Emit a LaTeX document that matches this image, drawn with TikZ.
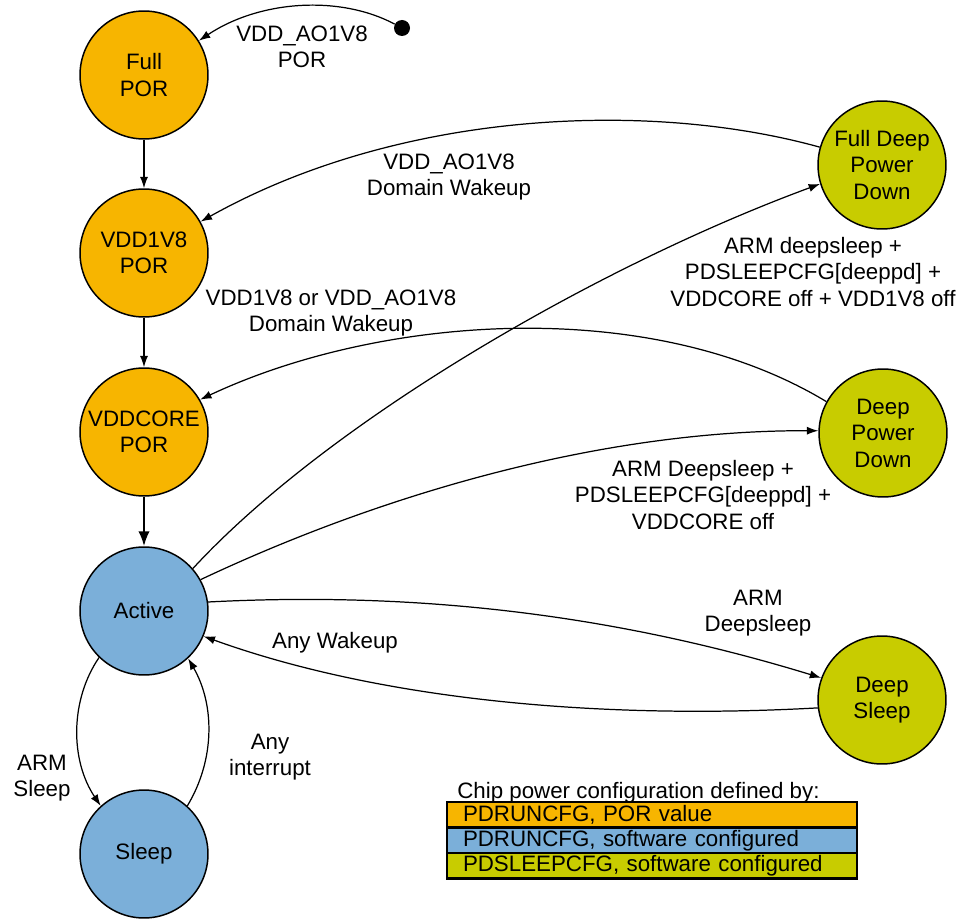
\documentclass[tikz,border=0pt]{standalone}
\usepackage{fontspec}
\setmainfont{Liberation Sans}
\usetikzlibrary{arrows.meta}
\definecolor{porO}{HTML}{F7B500}
\definecolor{swB}{HTML}{7BAFD9}
\definecolor{slpG}{HTML}{C8CC00}
\begin{document}
\begin{tikzpicture}[x=0.02cm,y=-0.02cm,
  font=\fontsize{12.7}{15.1}\selectfont,
  state/.style={circle, draw, line width=0.85pt, minimum size=2.56cm, inner sep=0pt, align=center},
  edge/.style={line width=0.7pt, -{Latex[length=6.5pt,width=4.6pt]}},
  bigedge/.style={line width=1.3pt, -{Latex[length=8.5pt,width=6.5pt]}},
  lbl/.style={align=center, inner sep=0pt},
  legrow/.style={draw, line width=1.4pt, outer sep=0pt, minimum height=0.51cm, inner xsep=0.32cm, inner ysep=0pt, text width=7.56cm, align=left, anchor=north west}]
\useasboundingbox (0,0) rectangle (960,922);

% states
\node[state, fill=porO] (fpor) at (144,75) {Full\\POR};
\node[state, fill=porO] (v18) at (144,253) {VDD1V8\\POR};
\node[state, fill=porO] (vcore) at (144,432) {VDDCORE\\POR};
\node[state, fill=swB] (act) at (144,611) {Active};
\node[state, fill=swB] (slp) at (144,854) {Sleep};
\node[state, fill=slpG] (fdpd) at (882,165) {Full Deep\\Power\\Down};
\node[state, fill=slpG] (dpd) at (883,433) {Deep\\Power\\Down};
\node[state, fill=slpG] (ds) at (882,700) {Deep\\Sleep};
\node[circle, fill=black, minimum size=0.32cm, inner sep=0pt] (dot) at (402,28) {};

% connectors
\draw[edge] (dot) .. controls (340,-5) and (260,0) .. (fpor.32);
\draw[edge] (fpor) -- (v18);
\draw[edge] (v18) -- (vcore);
\draw[bigedge] (vcore) -- (act);
\draw[edge] (fdpd.164) .. controls (650,100) and (400,110) .. (v18.29);
\draw[edge] (dpd.151) .. controls (650,295) and (380,315) .. (vcore.30);
\draw[edge] (act.41) .. controls (330,420) and (600,265) .. (fdpd.197);
\draw[edge] (act.29) .. controls (380,495) and (600,430) .. (dpd.178);
\draw[edge] (act.8) .. controls (400,592) and (600,610) .. (ds.160);
\draw[edge] (ds.187) .. controls (600,720) and (380,700) .. (act.-23);
\draw[edge] (act.-134) .. controls (70,700) and (70,760) .. (slp.132);
\draw[edge] (slp.48) .. controls (215,760) and (215,705) .. (act.-47);

% labels
\node[lbl] (l1) at (302,47) {VDD\_AO1V8\\POR};
\node[lbl] (l2) at (449,177) {VDD\_AO1V8\\Domain Wakeup};
\node[lbl] (l3) at (331,313) {VDD1V8 or VDD\_AO1V8\\Domain Wakeup};
\node[lbl] (l4) at (813,272) {ARM deepsleep +\\PDSLEEPCFG[deeppd] +\\VDDCORE off + VDD1V8 off};
\node[lbl] (l5) at (703,495) {ARM Deepsleep +\\PDSLEEPCFG[deeppd] +\\VDDCORE off};
\node[lbl] (l6) at (758,613) {ARM\\Deepsleep};
\node[lbl] (l7) at (335,643) {Any Wakeup};
\node[lbl] (l8) at (42,778) {ARM\\Sleep};
\node[lbl] (l9) at (270,757) {Any\\interrupt};

% legend
\node[anchor=base west, inner sep=0pt] (legt) at (457,798) {Chip power configuration defined by:};
\node[legrow, fill=porO] (leg1) at (447,802) {PDRUNCFG, POR value};
\node[legrow, fill=swB] (leg2) at (leg1.south west) {PDRUNCFG, software configured};
\node[legrow, fill=slpG] (leg3) at (leg2.south west) {PDSLEEPCFG, software configured};
\end{tikzpicture}
\end{document}
